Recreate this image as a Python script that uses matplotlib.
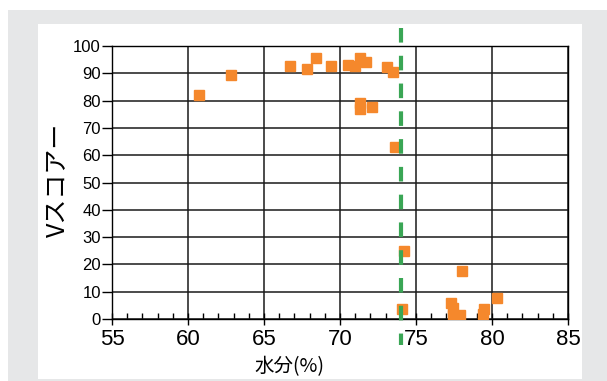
import matplotlib.pyplot as plt
from matplotlib.patches import Rectangle
from matplotlib.ticker import MultipleLocator

plt.rcParams['font.family'] = ['Liberation Sans', 'Noto Sans CJK JP', 'DejaVu Sans']
plt.rcParams['lines.scale_dashes'] = False

# data
moisture = [60.7, 62.8, 66.7, 67.8, 68.4, 69.4, 70.5, 71.0, 71.3, 71.7, 73.1, 73.5,
            71.3, 71.3, 72.1, 73.6, 74.2, 74.1, 78.0, 80.3, 77.3, 77.4, 77.4, 77.9,
            79.4, 79.5]
vscore = [82, 89.5, 92.5, 91.5, 95.5, 92.5, 93, 92.5, 95.5, 94.3, 92.2, 90.6,
          79, 77, 77.8, 63, 25, 3.5, 17.5, 7.6, 6, 4, 1.5, 1.5,
          2, 3.5]
threshold = 74.0

fig = plt.figure(figsize=(6.07, 3.81), dpi=100)

# panel frame
fig.patches.append(Rectangle((0.0132, 0), 0.99, 0.9738, transform=fig.transFigure,
                             facecolor='#e6e7e8', edgecolor='none', zorder=-2))
fig.patches.append(Rectangle((0.0626, 0.005), 0.8962, 0.932, transform=fig.transFigure,
                             facecolor='white', edgecolor='none', zorder=-1))

ax = fig.add_axes([0.1845, 0.1627, 0.7513, 0.7165])
ax.set_facecolor('none')

ax.plot(moisture, vscore, linestyle='none', marker='s', markersize=7.5,
        color='#f5882c', zorder=3)

# threshold line, runs past the axes
ax.plot([threshold, threshold], [106.5, -9.5], color='#3aa655', linewidth=3,
        linestyle=(0, (10.5, 9.5)), clip_on=False, zorder=4)

ax.set_xlim(55, 85)
ax.set_ylim(0, 100)
ax.xaxis.set_major_locator(MultipleLocator(5))
ax.xaxis.set_minor_locator(MultipleLocator(1))
ax.yaxis.set_major_locator(MultipleLocator(10))

ax.grid(True, which='major', color='#1a1a1a', linewidth=1.1)
ax.set_axisbelow(True)

ax.tick_params(axis='x', which='major', direction='inout', length=9, width=1,
               labelsize=16, pad=3)
ax.tick_params(axis='x', which='minor', direction='in', length=4, width=1)
ax.tick_params(axis='y', direction='out', length=7, width=1, labelsize=12, pad=1)
for lab in ax.get_xticklabels():
    lab.set_family(['Liberation Sans Narrow', 'Liberation Sans'])
for s in ax.spines.values():
    s.set_linewidth(1)

ax.set_xlabel('水分(%)', fontsize=14, family=['Noto Sans CJK JP', 'DejaVu Sans'])
ax.xaxis.set_label_coords(0.39, -0.176)
ax.xaxis.label.set_verticalalignment('center')
ax.set_ylabel('Vスコアー', fontsize=18, family=['Noto Sans CJK JP', 'DejaVu Sans'])
ax.yaxis.set_label_coords(-0.118, 0.51)
ax.yaxis.label.set_verticalalignment('center')

fig.savefig('out.png', dpi=100)
